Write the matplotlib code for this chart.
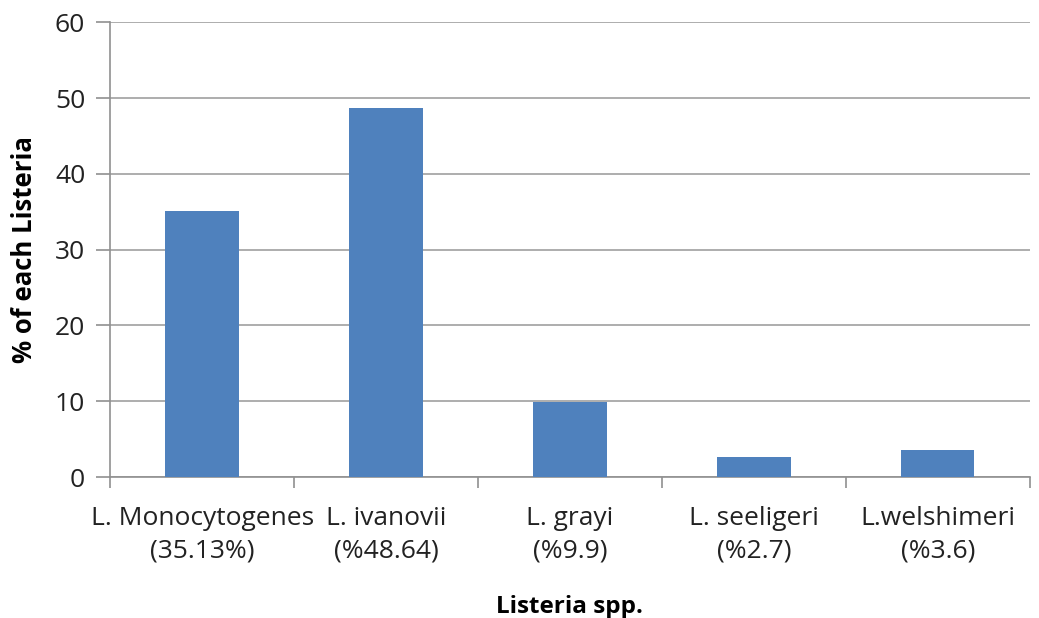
import matplotlib.pyplot as plt
import numpy as np

categories = ["L. Monocytogenes\n(35.13%)", "L. ivanovii\n(%48.64)", "L. grayi\n(%9.9)",
              "L. seeligeri\n(%2.7)", "L.welshimeri\n(%3.6)"]
values = [35.13, 48.64, 9.9, 2.7, 3.6]

plt.rcParams['font.family'] = ['Open Sans', 'DejaVu Sans']

fig = plt.figure(figsize=(10.39, 6.18), dpi=100)
ax = fig.add_axes([0.106, 0.228, 0.885, 0.736])

x = np.arange(len(values))
ax.bar(x, values, width=0.4, color='#4f81bd', zorder=3)

ax.set_xlim(-0.5, len(values) - 0.5)
ax.set_ylim(0, 60)
ax.set_yticks(np.arange(0, 61, 10))
ax.grid(axis='y', color='#a0a0a0', linewidth=1.2, zorder=0)

ax.set_xticks(x)
ax.set_xticklabels(categories, fontsize=19, color='#222222', linespacing=1.36)
ax.tick_params(axis='x', which='major', length=0, pad=21)
ax.set_xticks(np.arange(-0.5, len(values), 1), minor=True)
ax.tick_params(axis='x', which='minor', length=8, color='#909090', width=1.2)
ax.tick_params(axis='y', length=10, color='#909090', width=1.2, labelsize=19,
               labelcolor='#222222', pad=8)

for s in ['top', 'right']:
    ax.spines[s].set_visible(False)
for s in ['left', 'bottom']:
    ax.spines[s].set_color('#909090')
    ax.spines[s].set_linewidth(1.2)

ax.set_ylabel('% of each Listeria', fontsize=18.5, fontweight='bold', labelpad=12)
ax.set_xlabel('Listeria spp.', fontsize=17.5, fontweight='bold', labelpad=23)

fig.savefig('out.png', dpi=100)
